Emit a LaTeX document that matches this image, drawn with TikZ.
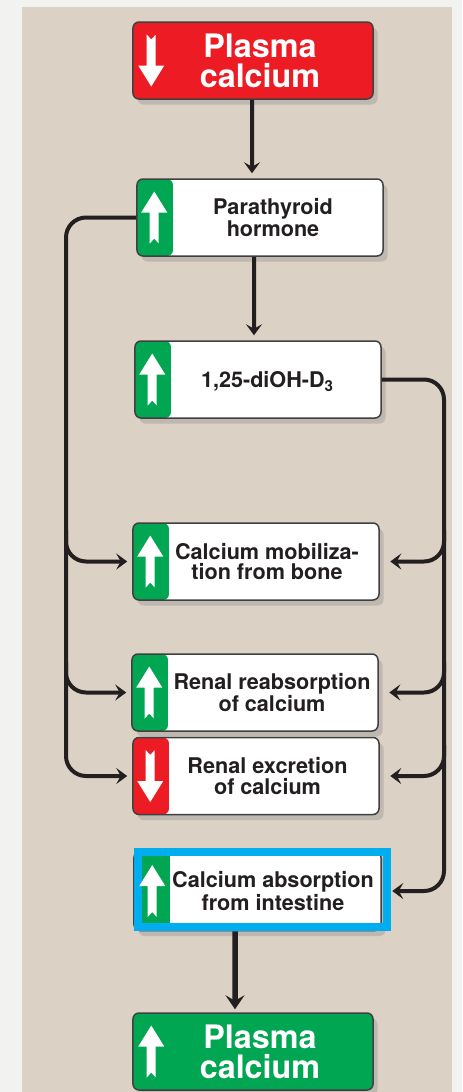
\documentclass[tikz,border=0pt]{standalone}
\usepackage{fontspec}
\newfontfamily\helv{TeX Gyre Heros}
\usepackage{tikz}
\usetikzlibrary{shapes}
\usetikzlibrary{positioning}
\usetikzlibrary{arrows.meta}
\usetikzlibrary{shadows}
\definecolor{bgbeige}{HTML}{DBD1C5}
\definecolor{outgray}{HTML}{F2F2F0}
\definecolor{calred}{HTML}{ED1C24}
\definecolor{calgreen}{HTML}{00A651}
\definecolor{calblue}{HTML}{00AEEF}
\definecolor{lineblk}{HTML}{231F20}
\tikzset{
    calbox/.style = {rectangle, rounded corners=1.2mm, draw=black!75, line width=0.3mm, fill=white,
                     minimum width=49.2mm, minimum height=15.4mm, inner sep=0pt,
                     drop shadow={opacity=0.3, shadow xshift=0.9mm, shadow yshift=-1.1mm}},
    plasmabox/.style = {calbox, minimum width=48mm, fill=#1},
    stripe/.style = {path picture={\fill[#1, rounded corners=1.2mm]
                     ([xshift=-2mm]path picture bounding box.south west) rectangle
                     ([xshift=7.2mm]path picture bounding box.north west);}},
    boxtxt/.style = {font=\helv\bfseries\fontsize{12.3}{11.6}\selectfont, text=lineblk, align=center, inner sep=0pt},
    plasmatxt/.style = {font=\helv\bfseries\fontsize{18.4}{17}\selectfont, text=white, align=center, inner sep=0pt},
    edgen/.style = {-{Stealth[length=2.2mm,width=3.2mm,inset=0.9mm]}, line width=0.8mm, draw=lineblk, shorten >=1mm},
    edger/.style = {edgen, shorten >=2.1mm}, % right side, past the shadow
    edgeb/.style = {-{Stealth[length=2.8mm,width=3.8mm,inset=1.1mm]}, line width=1.1mm, draw=lineblk, shorten >=0.6mm},
    uparr/.pic = {\fill[white] (0,-26) -- (13,-5) -- (4.5,-5) -- (4.5,26) -- (0,21) -- (-4.5,26)
                  -- (-4.5,-5) -- (-13,-5) -- cycle;}
}
\begin{document}
\begin{tikzpicture}[x=0.2mm, y=-0.2mm]
\useasboundingbox (0,0) rectangle (462,1092);
\fill[outgray] (0,0) rectangle (462,1092);
\fill[bgbeige] (22,7) rectangle (452,1092);
%
\node[plasmabox=calred] at (253, 60.5) (top) {};
\node[calbox, stripe=calgreen] at (260, 217.5) (pth) {};
\node[calbox, stripe=calgreen] at (258, 379.5) (d3) {};
\node[calbox, stripe=calgreen] at (256, 561.5) (bone) {};
\node[calbox, stripe=calgreen] at (255, 692.5) (reab) {};
\node[calbox, stripe=calred] at (256, 776) (excr) {};
\node[calbox, stripe=calgreen, minimum width=49.4mm, minimum height=15.8mm] at (257.5, 891) (absorb) {};
\node[plasmabox=calgreen] at (253, 1051.5) (bot) {};
%
\draw[calblue, line width=1.6mm] (138,852) rectangle (387,927);
%
\node[plasmatxt] at ([xshift=1.4mm]top.center) (top-t) {Plasma\\calcium};
\node[boxtxt] at ([xshift=2.6mm]pth.center) (pth-t) {Parathyroid\\hormone};
\node[boxtxt] at ([xshift=1.9mm,yshift=-0.4mm]d3.center) (d3-t) {1,25-diOH-D\textsubscript{3}};
\node[boxtxt] at ([xshift=2.2mm]bone.center) (bone-t) {Calcium mobiliza-\\tion from bone};
\node[boxtxt] at ([xshift=3.4mm]reab.center) (reab-t) {Renal reabsorption\\of calcium};
\node[boxtxt] at ([xshift=2.3mm]excr.center) (excr-t) {Renal excretion\\of calcium};
\node[boxtxt] at ([xshift=3.1mm]absorb.center) (absorb-t) {Calcium absorption\\from intestine};
\node[plasmatxt] at ([xshift=1.4mm]bot.center) (bot-t) {Plasma\\calcium};
%
\pic[rotate=180] at ([xshift=3.8mm]top.west) {uparr};
\pic at ([xshift=3.6mm]pth.west) {uparr};
\pic at ([xshift=3.6mm]d3.west) {uparr};
\pic at ([xshift=3.6mm]bone.west) {uparr};
\pic at ([xshift=3.6mm]reab.west) {uparr};
\pic[rotate=180] at ([xshift=3.6mm]excr.west) {uparr};
\pic at ([xshift=3.8mm]absorb.west) {uparr};
\pic at ([xshift=3.8mm]bot.west) {uparr};
%
\draw[edgen] ([xshift=-0.2mm]top.south) -- ([xshift=-1.6mm]pth.north);
\draw[edgen] ([xshift=-1.2mm]pth.south) -- ([xshift=-0.8mm]d3.north);
\draw[edgen, rounded corners=4mm] (pth.west) -| (66,776) -- (excr.west);
\draw[edgen, rounded corners=4mm] (66,530) |- (bone.west);
\draw[edgen, rounded corners=4mm] (66,662) |- (reab.west);
\draw[edger, rounded corners=4mm] (d3.east) -| (444,891) -- (absorb.east);
\draw[edger, rounded corners=4mm] (444,530) |- (bone.east);
\draw[edger, rounded corners=4mm] (444,662) |- (reab.east);
\draw[edger, rounded corners=4mm] (444,745) |- (excr.east);
\draw[edgeb] ([xshift=-4.5mm]absorb.south) -- ([xshift=-3.6mm]bot.north);

\end{tikzpicture}
\end{document}
